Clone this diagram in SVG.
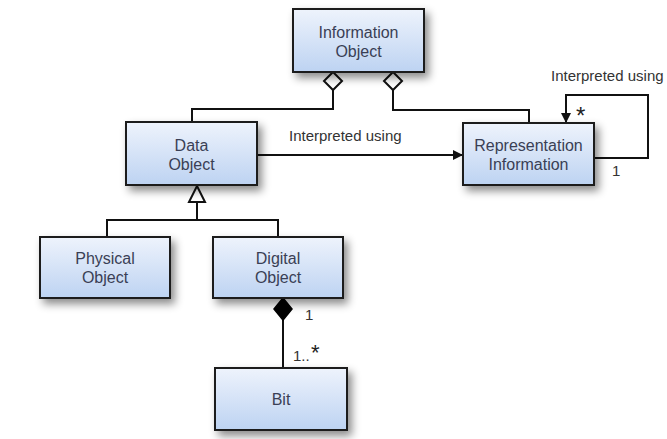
<svg xmlns="http://www.w3.org/2000/svg" width="667" height="439" viewBox="0 0 667 439">
<style>
.box{fill:url(#g);stroke:#1a1a1a;stroke-width:2;filter:url(#sh)}
.t{font-family:"Liberation Sans",Arial,sans-serif;font-size:16px;fill:#3a3f55;text-anchor:middle}
.l{font-family:"Liberation Sans",Arial,sans-serif;font-size:15px;fill:#333}
.s{font-family:"Liberation Sans",Arial,sans-serif;fill:#222}
.c{fill:none;stroke:#111;stroke-width:2}
</style>
<defs>
<linearGradient id="g" x1="0" y1="0" x2="0" y2="1">
<stop offset="0" stop-color="#eef3fc"/>
<stop offset="1" stop-color="#bdd3f2"/>
</linearGradient>
<filter id="sh" x="-20%" y="-20%" width="150%" height="160%">
<feDropShadow dx="4" dy="5" stdDeviation="4" flood-color="#000" flood-opacity="0.45"/>
</filter>
<marker id="arr" markerWidth="10" markerHeight="10" refX="9" refY="5" orient="auto" markerUnits="userSpaceOnUse">
<path d="M0,0 L10,5 L0,10 Z" fill="#111"/>
</marker>
</defs>
<g id="connectors">
<path class="c" d="M333,90 V109 H192 V122"/>
<path class="c" d="M393,90 V110 H529 V123"/>
<path d="M333,72 L342,81 L333,90 L324,81 Z" fill="#fff" stroke="#111" stroke-width="2"/>
<path d="M393,72 L402,81 L393,90 L384,81 Z" fill="#fff" stroke="#111" stroke-width="2"/>
<path class="c" d="M257,155 H462" marker-end="url(#arr)"/>
<text class="l" x="289" y="141">Interpreted using</text>
<path class="c" d="M594,158 H648 V95 H566 V122" marker-end="url(#arr)"/>
<text class="l" x="551" y="81">Interpreted using</text>
<text class="s" x="576" y="124" font-size="24">*</text>
<text class="l" x="612" y="176">1</text>
<path class="c" d="M197,202 V220 M107,237 V220 H278 V237"/>
<path d="M197,186 L205,202 L189,202 Z" fill="#fff" stroke="#111" stroke-width="2"/>
<path class="c" d="M283,320 V368"/>
<path d="M283,298 L292,309 L283,320 L274,309 Z" fill="#000" stroke="#000" stroke-width="1.5"/>
<text class="l" x="305" y="320">1</text>
<text class="l" x="293" y="361">1..</text>
<text class="s" x="311" y="360" font-size="22">*</text>
</g>
<g id="information-object">
<rect class="box" x="293" y="9" width="131" height="63"/>
<text class="t" x="358.5" y="38">Information</text>
<text class="t" x="358.5" y="57">Object</text>
</g>
<g id="data-object">
<rect class="box" x="126" y="122" width="131" height="63"/>
<text class="t" x="191.5" y="151">Data</text>
<text class="t" x="191.5" y="170">Object</text>
</g>
<g id="representation-information">
<rect class="box" x="463" y="123" width="131" height="62"/>
<text class="t" x="528.5" y="151">Representation</text>
<text class="t" x="528.5" y="170">Information</text>
</g>
<g id="physical-object">
<rect class="box" x="40" y="237" width="130" height="61"/>
<text class="t" x="105" y="264">Physical</text>
<text class="t" x="105" y="283">Object</text>
</g>
<g id="digital-object">
<rect class="box" x="213" y="237" width="130" height="61"/>
<text class="t" x="278" y="264">Digital</text>
<text class="t" x="278" y="283">Object</text>
</g>
<g id="bit">
<rect class="box" x="215" y="368" width="132" height="62"/>
<text class="t" x="281" y="405">Bit</text>
</g>
</svg>
